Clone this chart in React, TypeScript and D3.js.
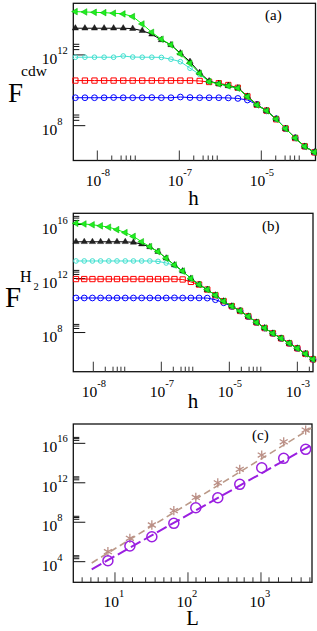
import React from "react";
import * as d3 from "d3";

const FONT = "'Liberation Serif', 'Times New Roman', serif";

// ---- panel (a): F_cdw against h (series values are log10 F) ----
const hA = [5.4e-9, 7.06e-9, 9.23e-9, 1.21e-8, 1.58e-8, 2.07e-8, 2.7e-8, 3.53e-8, 4.62e-8, 6.04e-8, 7.91e-8, 1.03e-7, 1.35e-7,
  1.77e-7, 2.31e-7, 3.03e-7, 3.96e-7, 5.18e-7, 6.77e-7, 8.85e-7, 1.16e-6, 1.52e-6, 1.98e-6, 2.59e-6, 3.39e-6, 4.44e-6];
const cdwBlue = [9.58, 9.58, 9.58, 9.58, 9.59, 9.58, 9.58, 9.58, 9.59, 9.58, 9.58, 9.62, 9.59,
  9.58, 9.58, 9.58, 9.57, 9.54, 9.45, 9.2, 8.84, 8.39, 7.83, 7.31, 6.83, 6.5];
const cdwRed = [10.55, 10.55, 10.55, 10.55, 10.55, 10.55, 10.55, 10.55, 10.55, 10.55, 10.55, 10.55, 10.55,
  10.53, 10.47, 10.4, 10.3, 10.14, 9.66, 9.18, 8.85, 8.36, 7.84, 7.3, 6.83, 6.49];
const cdwCyan = [11.87, 11.87, 11.87, 11.87, 11.87, 11.94, 11.88, 11.87, 11.87, 11.86, 11.76, 11.62, 11.25,
  10.9, 10.5, 10.36, 10.25, 10.12, 9.64, 9.17, 8.84, 8.37, 7.83, 7.3, 6.82, 6.5];
const cdwBlack = [13.51, 13.51, 13.51, 13.51, 13.51, 13.51, 13.49, 13.37, 13.17, 12.85, 12.57, 12.1, 11.62,
  11.0, 10.52, 10.37, 10.26, 10.13, 9.65, 9.17, 8.84, 8.37, 7.83, 7.3, 6.82, 6.5];
const cdwGreen = [14.45, 14.43, 14.41, 14.39, 14.36, 14.32, 14.17, 13.75, 13.28, 12.89, 12.57, 12.06, 11.53,
  10.95, 10.49, 10.36, 10.25, 10.12, 9.64, 9.17, 8.84, 8.37, 7.83, 7.3, 6.82, 6.5];

// ---- panel (b): F_H2 against h (log10 F) ----
const hB = [5.57e-9, 7.36e-9, 9.71e-9, 1.28e-8, 1.69e-8, 2.23e-8, 2.95e-8, 3.89e-8, 5.14e-8, 6.78e-8, 8.95e-8, 1.18e-7,
  1.56e-7, 2.06e-7, 2.72e-7, 3.59e-7, 4.74e-7, 6.25e-7, 8.26e-7, 1.09e-6, 1.44e-6, 1.9e-6, 2.51e-6, 3.31e-6, 4.37e-6,
  5.77e-6, 7.62e-6, 1.0e-5, 1.32e-5, 1.7e-5];
const h2Blue = [10.56, 10.56, 10.56, 10.56, 10.56, 10.56, 10.56, 10.56, 10.56, 10.56, 10.56, 10.56, 10.57, 10.56, 10.56,
  10.56, 10.55, 10.43, 10.2, 9.93, 9.6, 9.18, 8.75, 8.33, 7.94, 7.57, 7.2, 6.83, 6.42, 6.02];
const h2Red = [11.96, 11.96, 11.96, 11.96, 11.96, 11.96, 11.96, 11.96, 11.96, 11.96, 11.96, 11.96, 11.96, 11.93, 11.75,
  11.55, 11.18, 10.76, 10.32, 9.95, 9.6, 9.2, 8.75, 8.33, 7.94, 7.57, 7.2, 6.83, 6.42, 6.02];
const h2Cyan = [13.3, 13.3, 13.3, 13.3, 13.3, 13.3, 13.3, 13.3, 13.3, 13.3, 13.27, 13.15, 12.98, 12.55, 12.0,
  11.55, 11.18, 10.76, 10.32, 9.95, 9.6, 9.2, 8.75, 8.33, 7.94, 7.57, 7.2, 6.83, 6.42, 6.02];
const h2Black = [14.72, 14.72, 14.72, 14.72, 14.72, 14.72, 14.72, 14.68, 14.55, 14.34, 13.99, 13.5, 13.0, 12.55, 12.0,
  11.55, 11.18, 10.76, 10.32, 9.95, 9.6, 9.2, 8.75, 8.33, 7.94, 7.57, 7.2, 6.83, 6.42, 6.02];
const h2Green = [16.09, 16.04, 15.98, 15.9, 15.8, 15.62, 15.4, 15.12, 14.72, 14.36, 13.99, 13.5, 13.0, 12.55, 12.0,
  11.55, 11.18, 10.76, 10.32, 9.95, 9.6, 9.2, 8.75, 8.33, 7.94, 7.57, 7.2, 6.83, 6.42, 6.02];

// ---- panel (c): scaling with L (log10 F) ----
const sizesL = [8, 16, 32, 64, 128, 256, 512, 1024, 2048, 4096];
const starF = [5.01, 6.37, 7.72, 9.17, 10.52, 12.0, 13.36, 14.81, 16.15, 17.34];
const circF = [4.1, 5.59, 6.53, 7.89, 9.47, 10.48, 11.84, 13.52, 14.48, 15.39];
const fitL = [4.8, 4900];
const fitStarF = [3.87, 17.55];
const fitCircF = [3.23, 15.82];

// ---- ticks ----
const hMajorA = [1e-8, 1e-7, 1e-6];
const hLabelsA = ["-8", "-7", "-5"];
const hMajorB = [1e-8, 1e-7, 1e-6, 1e-5];
const hLabelsB = ["-8", "-7", "-5", "-3"];
const hMinorMult = [1.5, 1.95, 2.25, 2.55, 2.9];
const fMajorA = [1e8, 1e12];
const fMajorB = [1e8, 1e12, 1e16];
const fMajorC = [1e4, 1e8, 1e12, 1e16];
const fMinorMult = [2, 3, 4];
const lMajor = [10, 100, 1000];
const lLabels = ["1", "2", "3"];
const lMinorFrac = [0.11, 0.24, 0.42, 0.55, 0.67, 0.77, 0.89];

type Box = { l: number; r: number; t: number; b: number };

const pow = (v: number) => Math.pow(10, v);

function Axes({ box, x, y, xMajor, xLabels, xMinor, yMajor }: any) {
  const minorY = yMajor.flatMap((t: number) => fMinorMult.map((m) => t * m)).filter((v: number) => {
    const [a, b] = y.domain();
    return v > a && v < b;
  });
  return (
    <g>
      <rect x={box.l} y={box.t} width={box.r - box.l} height={box.b - box.t} fill="none" stroke="#111" strokeWidth={1.3} />
      {xMajor.map((t: number, i: number) => (
        <g key={"xm" + i}>
          <line x1={x(t)} x2={x(t)} y1={box.b} y2={box.b - 10} stroke="#333" />
          <text x={x(t) + 4} y={box.b + 25} textAnchor="end" fontSize={15.5}>10</text>
          <text x={x(t) + 4} y={box.b + 15} fontSize={10.5}>{xLabels[i]}</text>
        </g>
      ))}
      {xMinor.map((t: number, i: number) => (
        <line key={"xn" + i} x1={x(t)} x2={x(t)} y1={box.b} y2={box.b - 5} stroke="#333" />
      ))}
      {yMajor.map((t: number, i: number) => (
        <g key={"ym" + i}>
          <line x1={box.l} x2={box.l + 12} y1={y(t)} y2={y(t)} stroke="#111" />
          <text x={box.l - 16} y={y(t) + 9} textAnchor="end" fontSize={15.5}>10</text>
          <text x={box.l - 16} y={y(t) - 1} fontSize={10.5}>{Math.round(Math.log10(t))}</text>
        </g>
      ))}
      {minorY.map((t: number, i: number) => (
        <line key={"yn" + i} x1={box.l} x2={box.l + 6} y1={y(t)} y2={y(t)} stroke="#111" />
      ))}
    </g>
  );
}

const triUp = d3.symbol(d3.symbolTriangle, 17)()!;
const triLeft = d3.symbol(d3.symbolTriangle, 19)()!;
const circ = (s: number) => d3.symbol(d3.symbolCircle, s)()!;
const square = d3.symbol(d3.symbolSquare, 28)()!;
const asterisk = d3.symbol(d3.symbolAsterisk, 60)()!;

const styles = [
  { color: "#0000ff", kind: "circle" },
  { color: "#ff0000", kind: "square" },
  { color: "#40e0d0", kind: "small" },
  { color: "#000000", kind: "tri" },
  { color: "#00ff00", kind: "ltri" },
];

function Marker({ kind, color, cx, cy }: any) {
  const tr = `translate(${cx},${cy})`;
  if (kind === "circle") return <path d={circ(26)} transform={tr} fill="none" stroke={color} strokeWidth={1} />;
  if (kind === "square") return <path d={square} transform={tr} fill="none" stroke={color} strokeWidth={1} />;
  if (kind === "small") return <path d={circ(17)} transform={tr} fill="none" stroke={color} strokeWidth={1} />;
  if (kind === "tri") return <path d={triUp} transform={tr} fill="#222" stroke="#000" strokeWidth={0.4} />;
  return <path d={triLeft} transform={tr + " rotate(-90)"} fill="#22ee22" stroke="#00b000" strokeWidth={0.5} />;
}

function HPanel({ box, hs, series, xDomain, yDomain, xMajor, xLabels, yMajor }: any) {
  const x = d3.scaleLog().domain(xDomain).range([box.l, box.r]);
  const y = d3.scaleLog().domain(yDomain).range([box.b, box.t]);
  const xMinor = xMajor.flatMap((t: number) => hMinorMult.map((m) => t * m)).filter((v: number) => v < xDomain[1]);
  const line = d3.line<number>().x((_, i) => x(hs[i])).y((d) => y(pow(d)));
  return (
    <g>
      <Axes box={box} x={x} y={y} xMajor={xMajor} xLabels={xLabels} xMinor={xMinor} yMajor={yMajor} />
      {series.map((vals: number[], s: number) => (
        <g key={s}>
          <path d={line(vals)!} fill="none" stroke={styles[s].color} strokeWidth={1} />
          {vals.map((v, i) => (
            <Marker key={i} kind={styles[s].kind} color={styles[s].color} cx={x(hs[i])} cy={y(pow(v))} />
          ))}
        </g>
      ))}
    </g>
  );
}

export default function App() {
  const boxA: Box = { l: 73.3, r: 315.5, t: 3.3, b: 160.5 };
  const boxB: Box = { l: 73.3, r: 313, t: 213.3, b: 371.7 };
  const boxC: Box = { l: 73.3, r: 312, t: 424, b: 582.3 };

  const xC = d3.scaleLog().domain([pow(0.429), pow(3.699)]).range([boxC.l, boxC.r]);
  const yC = d3.scaleLog().domain([pow(1.91), pow(17.96)]).range([boxC.b, boxC.t]);
  const minorC = [0, 1, 2, 3].flatMap((d) => lMinorFrac.map((f) => pow(d + f))).filter((v) => v > xC.domain()[0] && v < xC.domain()[1]);
  const fitLine = d3.line<number>().x((_, i) => xC(fitL[i])).y((d) => yC(pow(d)));

  return (
    <svg width={317} height={631} style={{ position: "absolute", left: 0, top: 0, background: "#fff" }} fontFamily={FONT}>
      <rect width={317} height={631} fill="#fff" />
      {/* (a) */}
      <HPanel box={boxA} hs={hA} series={[cdwBlue, cdwRed, cdwCyan, cdwBlack, cdwGreen]}
        xDomain={[pow(-8.293), pow(-5.339)]} yDomain={[pow(6.03), pow(14.92)]}
        xMajor={hMajorA} xLabels={hLabelsA} yMajor={fMajorA} />
      <text x={265} y={20} fontSize={15}>(a)</text>
      <text x={8} y={102} fontSize={27}>F</text>
      <text x={21} y={76} fontSize={15.5}>cdw</text>
      <text x={193.5} y={205} fontSize={21} textAnchor="middle">h</text>

      {/* (b) */}
      <HPanel box={boxB} hs={hB} series={[h2Blue, h2Red, h2Cyan, h2Black, h2Green]}
        xDomain={[pow(-8.294), pow(-4.77)]} yDomain={[pow(5.1), pow(16.83)]}
        xMajor={hMajorB} xLabels={hLabelsB} yMajor={fMajorB} />
      <text x={262} y={231} fontSize={15}>(b)</text>
      <text x={5} y={306.5} fontSize={29}>F</text>
      <text x={20} y={281.7} fontSize={16}>H</text>
      <text x={33.5} y={290} fontSize={10.5}>2</text>
      <text x={193} y={408} fontSize={21} textAnchor="middle">h</text>

      {/* (c) */}
      <Axes box={boxC} x={xC} y={yC} xMajor={lMajor} xLabels={lLabels} xMinor={minorC} yMajor={fMajorC} />
      <path d={fitLine(fitStarF)!} fill="none" stroke="#bb9988" strokeWidth={1.6} strokeDasharray="7,4" />
      <path d={fitLine(fitCircF)!} fill="none" stroke="#9a1fe0" strokeWidth={2} strokeDasharray="11,4" />
      {sizesL.map((L, i) => (
        <path key={"s" + i} d={asterisk} transform={`translate(${xC(L)},${yC(pow(starF[i]))})`} fill="none" stroke="#bb8f86" strokeWidth={1.3} />
      ))}
      {sizesL.map((L, i) => (
        <circle key={"c" + i} cx={xC(L)} cy={yC(pow(circF[i]))} r={5} fill="none" stroke="#9a1fe0" strokeWidth={1.5} />
      ))}
      <text x={252} y={439.5} fontSize={15}>(c)</text>
      <text x={192.5} y={625} fontSize={20.5} textAnchor="middle">L</text>
    </svg>
  );
}
